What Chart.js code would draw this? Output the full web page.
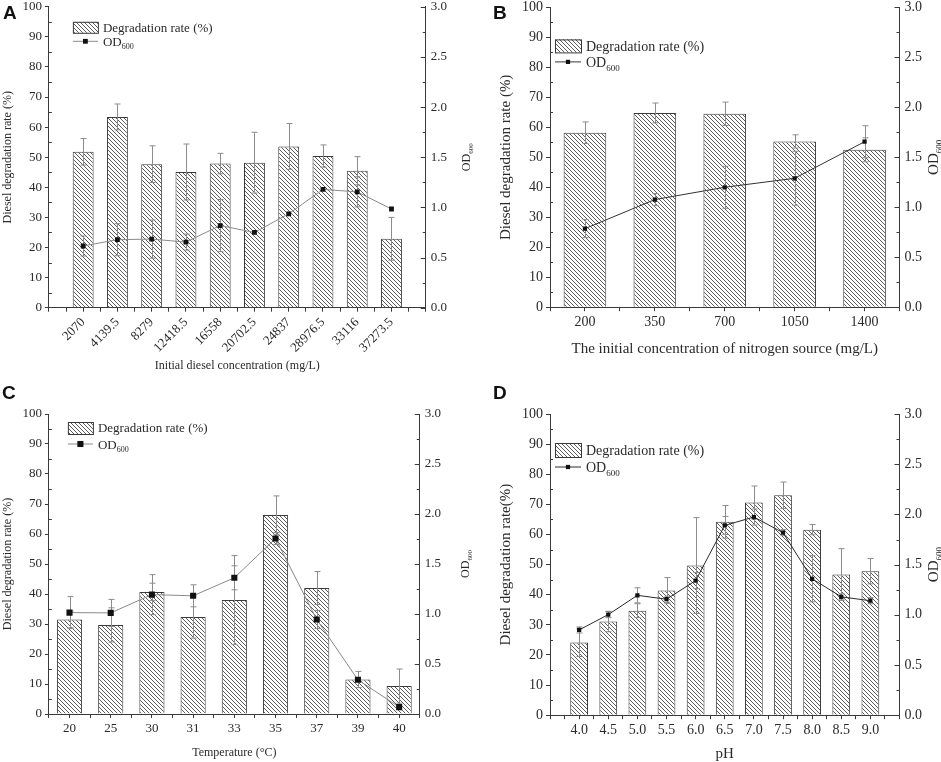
<!DOCTYPE html>
<html>
<head>
<meta charset="utf-8">
<script src="https://cdn.jsdelivr.net/npm/chart.js@4.4.0/dist/chart.umd.min.js"></script>
<style>
  body { margin: 0; background: #fff; }
  #wrap { position: relative; width: 941px; height: 762px; overflow: hidden; }
  canvas { position: absolute; }
  .tag { position: absolute; font: bold 19px "Liberation Sans", Arial, sans-serif; color: #111; line-height: 1; }
</style>
</head>
<body>
<div id="wrap">
  <canvas id="chartA" width="480" height="386" style="left:0;top:-6px"></canvas>
  <canvas id="chartC" width="480" height="382" style="left:0;top:380px"></canvas>
  <canvas id="chartB" width="471" height="386" style="left:470px;top:-6px"></canvas>
  <canvas id="chartD" width="471" height="382" style="left:470px;top:380px"></canvas>
  <div class="tag" style="left:3px;top:3px">A</div>
  <div class="tag" style="left:493px;top:3px">B</div>
  <div class="tag" style="left:2px;top:383px">C</div>
  <div class="tag" style="left:493px;top:383px">D</div>
</div>
<script>
// panel A - initial diesel concentration
const catsA = ['2070', '4139.5', '8279', '12418.5', '16558', '20702.5', '24837', '28976.5', '33116', '37273.5'];
const rateA = [51.8, 63.4, 47.7, 45.1, 47.9, 48.2, 53.6, 50.4, 45.5, 22.9];
const rateErrA = [4.4, 4.3, 6.1, 9.3, 3.4, 10.1, 7.6, 3.7, 4.7, 7.1];
const odA = [0.615, 0.678, 0.684, 0.654, 0.819, 0.750, 0.936, 1.179, 1.155, 0.984];
const odErrA = [0.10, 0.16, 0.19, 0.08, 0.26, 0, 0, 0, 0.15, 0];

// panel B - nitrogen source
const catsB = ['200', '350', '700', '1050', '1400'];
const rateB = [58.2, 64.8, 64.5, 55.3, 52.5];
const rateErrB = [3.6, 3.3, 3.9, 2.2, 4.0];
const odB = [0.786, 1.077, 1.200, 1.290, 1.656];
const odErrB = [0.09, 0.06, 0.21, 0.27, 0.16];

// panel C - temperature
const catsC = ['20', '25', '30', '31', '33', '35', '37', '39', '40'];
const rateC = [31.5, 29.7, 40.7, 32.3, 38.0, 66.3, 42.0, 11.5, 9.3];
const rateErrC = [2.8, 5.7, 2.9, 7.0, 14.8, 6.4, 5.5, 2.7, 5.7];
const odC = [1.014, 1.011, 1.194, 1.182, 1.362, 1.755, 0.945, 0.342, 0.069];
const odErrC = [0.16, 0.135, 0.20, 0.11, 0.12, 0.06, 0.09, 0, 0];

// panel D - pH
const catsD = ['4.0', '4.5', '5.0', '5.5', '6.0', '6.5', '7.0', '7.5', '8.0', '8.5', '9.0'];
const rateD = [24.1, 31.1, 34.7, 41.4, 49.7, 64.2, 70.6, 73.0, 61.6, 46.7, 47.8];
const rateErrD = [4.6, 3.4, 2.3, 4.3, 15.9, 5.4, 5.5, 4.4, 1.7, 8.6, 4.2];
const odD = [0.849, 1.002, 1.194, 1.155, 1.341, 1.890, 1.974, 1.818, 1.359, 1.179, 1.140];
const odErrD = [0.03, 0.03, 0.075, 0.03, 0.08, 0.09, 0.08, 0.03, 0.23, 0.03, 0.03];

const leftTicks = [0, 10, 20, 30, 40, 50, 60, 70, 80, 90, 100];
const rightTicks = [0, 0.5, 1.0, 1.5, 2.0, 2.5, 3.0];

const FONT = '"Liberation Serif", "Times New Roman", serif';
const TEXT = '#2a2a2a';
const AXIS = '#3a3a3a';

const panels = {
    chartA: {
        cats: catsA, rate: rateA, rateErr: rateErrA, od: odA, odErr: odErrA,
        xTitle: 'Initial diesel concentration (mg/L)', yTitle: 'Diesel degradation rate (%)',
        xMin: 0, xMax: catsA.length + 1, rot: 45, lineColor: '#8a8a8a', pointR: 3.4,
        tickSize: 13, titleSize: 12, legendSize: 13, odTitleSize: 12, odTitleDx: 40, xTitlePad: 0,
        padding: { left: 1, right: 28, top: 0, bottom: 7 },
        legend: { dx: 24, dy: 15, w: 25, h: 11, gap: 14 }
    },
    chartB: {
        cats: catsB, rate: rateB, rateErr: rateErrB, od: odB, odErr: odErrB,
        xTitle: 'The initial concentration of nitrogen source (mg/L)', yTitle: 'Diesel degradation rate (%)',
        xMin: 0.5, xMax: catsB.length + 0.5, rot: 0, lineColor: '#333333', pointR: 3,
        tickSize: 14, titleSize: 15, legendSize: 14, odTitleSize: 15, odTitleDx: 33, xTitlePad: 6,
        padding: { left: 27, right: 14, top: 0, bottom: 22 },
        legend: { dx: 5, dy: 32, w: 26, h: 13, gap: 16 }
    },
    chartC: {
        cats: catsC, rate: rateC, rateErr: rateErrC, od: odC, odErr: odErrC,
        xTitle: 'Temperature (\u00B0C)', yTitle: 'Diesel degradation rate (%)',
        xMin: 0.5, xMax: catsC.length + 0.5, rot: 0, lineColor: '#8a8a8a', pointR: 4.3,
        tickSize: 13, titleSize: 12, legendSize: 13, odTitleSize: 12, odTitleDx: 45, xTitlePad: 6,
        padding: { left: 1, right: 34, top: 34, bottom: 2 },
        legend: { dx: 19, dy: 8, w: 25, h: 12, gap: 16 }
    },
    chartD: {
        cats: catsD, rate: rateD, rateErr: rateErrD, od: odD, odErr: odErrD,
        xTitle: 'pH', yTitle: 'Diesel degradation rate(%)',
        xMin: 0, xMax: catsD.length + 1, rot: 0, lineColor: '#2a2a2a', pointR: 3,
        tickSize: 14, titleSize: 15, legendSize: 14, odTitleSize: 15, odTitleDx: 33, xTitlePad: 3,
        padding: { left: 27, right: 14, top: 34, bottom: -1 },
        legend: { dx: 5, dy: 29, w: 26, h: 14, gap: 17 }
    }
};

function makeHatch() {
    const c = document.createElement('canvas');
    c.width = 4; c.height = 4;
    const g = c.getContext('2d');
    g.fillStyle = '#ffffff';
    g.fillRect(0, 0, 4, 4);
    g.strokeStyle = '#4a4a4a';
    g.lineWidth = 0.9;
    g.beginPath();
    g.moveTo(-1, -1); g.lineTo(5, 5);
    g.moveTo(-1, 3); g.lineTo(1, 5);
    g.moveTo(3, -1); g.lineTo(5, 1);
    g.stroke();
    return g.createPattern(c, 'repeat');
}
const hatch = makeHatch();

function errBars(ctx, xs, ys, vals, errs) {
    vals.forEach((v, i) => {
        const e = errs[i];
        if (!e) return;
        const x = Math.round(xs.getPixelForValue(i + 1)) + 0.5;
        const top = ys.getPixelForValue(v + e);
        const bot = ys.getPixelForValue(v - e);
        ctx.beginPath();
        ctx.moveTo(x, top); ctx.lineTo(x, bot);
        ctx.moveTo(x - 3, top); ctx.lineTo(x + 3, top);
        ctx.moveTo(x - 3, bot); ctx.lineTo(x + 3, bot);
        ctx.stroke();
    });
}

function drawOD(ctx, x, y, size, rotate) {
    // "OD" with subscript 600
    ctx.save();
    ctx.translate(x, y);
    if (rotate) ctx.rotate(-Math.PI / 2);
    ctx.textBaseline = 'alphabetic';
    ctx.font = size + 'px ' + FONT;
    const w1 = ctx.measureText('OD').width;
    ctx.font = Math.round(size * 0.62) + 'px ' + FONT;
    const w2 = ctx.measureText('600').width;
    const x0 = rotate ? -(w1 + w2) / 2 : 0;
    ctx.font = size + 'px ' + FONT;
    ctx.fillText('OD', x0, size * 0.35);
    ctx.font = Math.round(size * 0.62) + 'px ' + FONT;
    ctx.fillText('600', x0 + w1, size * 0.35 + size * 0.28);
    ctx.restore();
}

const decor = {
    id: 'decor',
    afterDatasetDraw(chart, args) {
        if (args.index !== 0) return;
        const p = panels[chart.canvas.id];
        const ctx = chart.ctx;
        ctx.save();
        ctx.strokeStyle = '#8c8c8c';
        ctx.lineWidth = 1;
        errBars(ctx, chart.scales.x, chart.scales.y, p.rate, p.rateErr);
        errBars(ctx, chart.scales.x, chart.scales.y2, p.od, p.odErr);
        ctx.restore();
    },
    afterDraw(chart) {
        const p = panels[chart.canvas.id];
        const ctx = chart.ctx;
        const a = chart.chartArea;
        const y = chart.scales.y, y2 = chart.scales.y2;
        ctx.save();
        ctx.strokeStyle = AXIS;
        ctx.lineWidth = 1;
        ctx.beginPath();
        // minor ticks on the left axis
        for (let v = 5; v < 100; v += 10) {
            const py = Math.round(y.getPixelForValue(v)) + 0.5;
            ctx.moveTo(a.left, py); ctx.lineTo(a.left + 3, py);
        }
        // inward ticks on the right axis
        for (let v = 0; v <= 3.001; v += 0.25) {
            const py = Math.round(y2.getPixelForValue(v)) + 0.5;
            const len = Math.abs(v * 2 - Math.round(v * 2)) < 0.01 ? 5 : 3;
            ctx.moveTo(a.right, py); ctx.lineTo(a.right - len, py);
        }
        ctx.stroke();

        // legend
        const L = p.legend;
        const lx = a.left + L.dx, ly = a.top + L.dy;
        ctx.fillStyle = hatch;
        ctx.fillRect(lx, ly, L.w, L.h);
        ctx.strokeStyle = AXIS;
        ctx.strokeRect(lx + 0.5, ly + 0.5, L.w, L.h);
        ctx.fillStyle = TEXT;
        ctx.font = p.legendSize + 'px ' + FONT;
        ctx.textBaseline = 'middle';
        ctx.fillText('Degradation rate (%)', lx + L.w + 5, ly + L.h / 2 + 1);
        const oy = ly + L.h / 2 + L.gap;
        ctx.strokeStyle = p.lineColor;
        ctx.beginPath();
        ctx.moveTo(lx, oy); ctx.lineTo(lx + L.w, oy);
        ctx.stroke();
        const s = p.pointR * Math.SQRT2;
        ctx.fillStyle = '#111';
        ctx.fillRect(lx + L.w / 2 - s / 2, oy - s / 2, s, s);
        ctx.fillStyle = TEXT;
        drawOD(ctx, lx + L.w + 5, oy, p.legendSize, false);

        // right axis title
        drawOD(ctx, a.right + p.odTitleDx, (a.top + a.bottom) / 2, p.odTitleSize, true);
        ctx.restore();
    }
};

function buildChart(id) {
    const p = panels[id];
    const ctx = document.getElementById(id).getContext('2d');
    const n = p.cats.length;
    return new Chart(ctx, {
        type: 'bar',
        data: {
            datasets: [{
                type: 'bar',
                label: 'Degradation rate (%)',
                data: p.rate.map((v, i) => ({ x: i + 1, y: v })),
                backgroundColor: hatch,
                borderColor: AXIS,
                borderWidth: 1,
                barPercentage: 1.22,
                categoryPercentage: 1,
                yAxisID: 'y',
                order: 2
            }, {
                type: 'line',
                label: 'OD600',
                data: p.od.map((v, i) => ({ x: i + 1, y: v })),
                borderColor: p.lineColor,
                borderWidth: 1,
                tension: 0,
                pointStyle: 'rect',
                pointRadius: p.pointR,
                pointBackgroundColor: '#111',
                pointBorderColor: '#111',
                pointBorderWidth: 0,
                yAxisID: 'y2',
                order: 1
            }]
        },
        options: {
            responsive: false,
            animation: false,
            layout: { padding: p.padding },
            plugins: { legend: { display: false }, tooltip: { enabled: false } },
            scales: {
                x: {
                    type: 'linear',
                    min: p.xMin,
                    max: p.xMax,
                    offset: false,
                    border: { color: AXIS, width: 1 },
                    grid: { drawOnChartArea: false, offset: false, tickLength: 4, color: AXIS },
                    ticks: {
                        stepSize: 0.5,
                        maxTicksLimit: 100,
                        autoSkip: false,
                        minRotation: p.rot,
                        maxRotation: p.rot,
                        padding: 3,
                        color: TEXT,
                        font: { family: FONT, size: p.tickSize },
                        callback: v => (Number.isInteger(v) && v >= 1 && v <= n) ? p.cats[v - 1] : ''
                    },
                    title: {
                        display: true,
                        text: p.xTitle,
                        color: TEXT,
                        font: { family: FONT, size: p.titleSize },
                        padding: { top: p.xTitlePad, bottom: 0 }
                    }
                },
                y: {
                    position: 'left',
                    min: 0,
                    max: 100,
                    border: { color: AXIS, width: 1 },
                    grid: { drawOnChartArea: false, tickLength: 4, color: AXIS },
                    ticks: {
                        stepSize: 10,
                        padding: 3,
                        color: TEXT,
                        font: { family: FONT, size: p.tickSize },
                        callback: v => leftTicks.includes(v) ? String(v) : ''
                    },
                    title: {
                        display: true,
                        text: p.yTitle,
                        color: TEXT,
                        font: { family: FONT, size: p.titleSize },
                        padding: { top: 0, bottom: 4 }
                    }
                },
                y2: {
                    position: 'right',
                    min: 0,
                    max: 3,
                    border: { color: AXIS, width: 1 },
                    grid: { drawOnChartArea: false, drawTicks: false },
                    ticks: {
                        stepSize: 0.5,
                        padding: 5,
                        color: TEXT,
                        font: { family: FONT, size: p.tickSize },
                        callback: v => rightTicks.includes(v) ? v.toFixed(1) : ''
                    }
                }
            }
        },
        plugins: [decor]
    });
}

document.addEventListener('DOMContentLoaded', function () {
    Object.keys(panels).forEach(buildChart);
});
</script>
</body>
</html>
